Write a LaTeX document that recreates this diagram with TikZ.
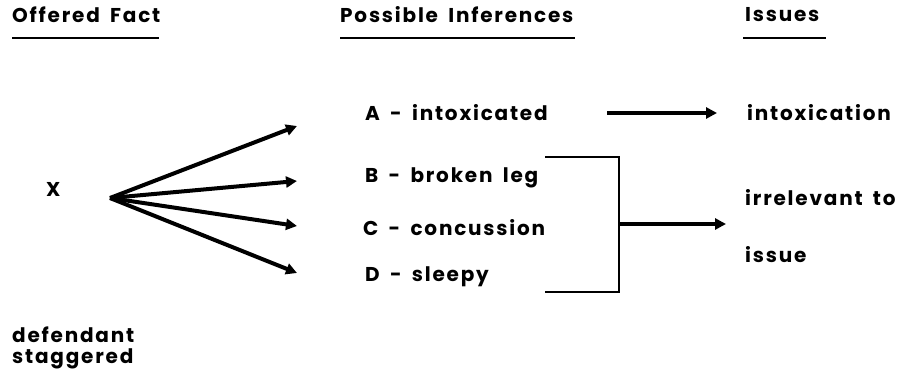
\documentclass[tikz,border=0pt]{standalone}
\usepackage{fontspec}
\newfontfamily\lbl[LetterSpace=9,WordSpace=1.7]{Poppins}
\usetikzlibrary{arrows.meta}
\begin{document}
\begin{tikzpicture}[x=1pt,y=-1pt,
  txt/.style={anchor=west,inner sep=0pt,font=\lbl\fontsize{20}{24}\selectfont\bfseries},
  fan/.style={line width=4pt,-{Triangle[length=11pt,width=11pt]}},
  harrow/.style={line width=3.6pt,-{Triangle[length=11pt,width=11pt]}},
  uline/.style={line width=1.5pt},
  brk/.style={line width=1.3pt}]
\useasboundingbox (0,0) rectangle (904,371);
% headings
\node[txt] (h1) at (12,15) {Offered Fact};
\node[txt] (h2) at (340,15) {Possible Inferences};
\node[txt] (h3) at (745,15) {Issues};
\coordinate (u1a) at (12,38); \coordinate (u1b) at (159,38);
\coordinate (u2a) at (340,38); \coordinate (u2b) at (575,38);
\coordinate (u3a) at (743,38); \coordinate (u3b) at (826,38);
\draw[uline] (u1a) -- (u1b);
\draw[uline] (u2a) -- (u2b);
\draw[uline] (u3a) -- (u3b);
% fact
\node[txt] (x) at (46,189) {X};
\coordinate (o) at (110,198);
\coordinate (ta) at (297,126);
\coordinate (tb) at (297,181);
\coordinate (tc) at (297,226);
\coordinate (td) at (297,273);
\draw[fan] (o) -- (ta);
\draw[fan] (o) -- (tb);
\draw[fan] (o) -- (tc);
\draw[fan] (o) -- (td);
\node[txt] (f1) at (12,335) {defendant};
\node[txt] (f2) at (12,359) {staggered};
% inferences
\node[txt] (A) at (365,113) {A - intoxicated};
\node[txt] (B) at (365,178) {B - broken leg};
\node[txt] (C) at (363,228) {C - concussion};
\node[txt] (D) at (365,277) {D - sleepy};
% bracket
\coordinate (bt) at (545,157); \coordinate (btr) at (619,157);
\coordinate (bb) at (545,292); \coordinate (bbr) at (619,292);
\coordinate (bm) at (619,224);
\draw[brk] (bt) -- (btr) -- (bbr) -- (bb);
% issues
\coordinate (a1) at (607,113);
\node[txt] (i1) at (747,113) {intoxication};
\node[txt] (i2) at (745,198) {irrelevant to};
\node[txt] (i3) at (745,255) {issue};
\coordinate (a1e) at (717,113);
\coordinate (a2e) at (726,224);
\draw[harrow] (a1) -- (a1e);
\draw[harrow] (bm) -- (a2e);
\end{tikzpicture}
\end{document}
